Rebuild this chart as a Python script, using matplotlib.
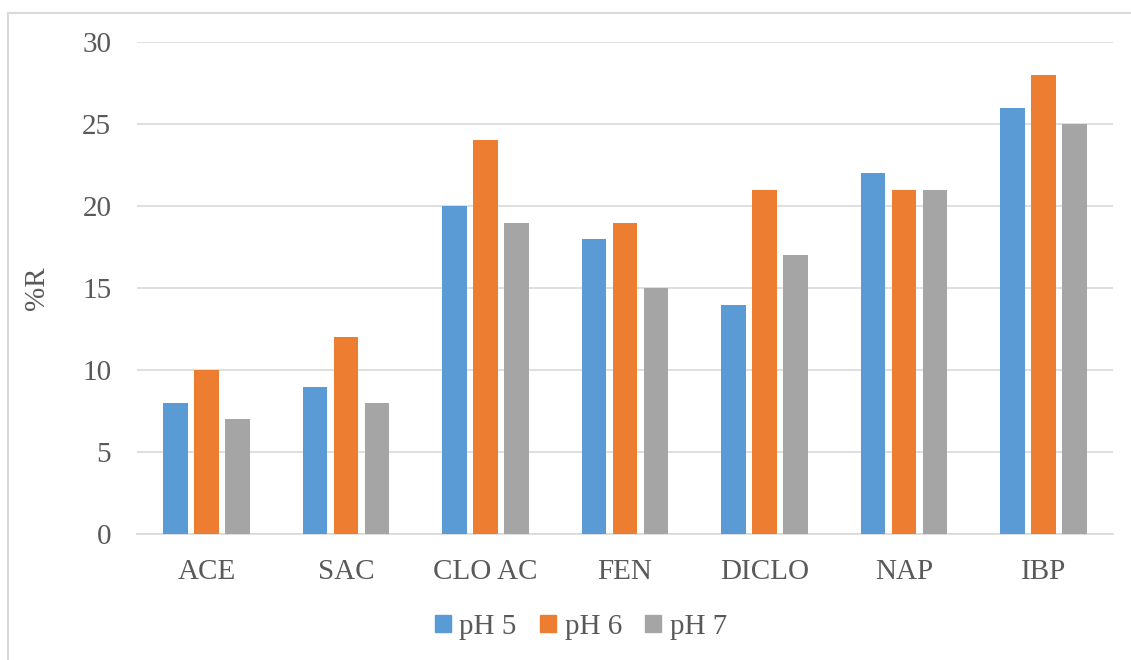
import matplotlib
matplotlib.use("Agg")
import matplotlib.pyplot as plt
import numpy as np
from matplotlib.lines import Line2D

categories = ["ACE", "SAC", "CLO AC", "FEN", "DICLO", "NAP", "IBP"]
series_names = ["pH 5", "pH 6", "pH 7"]
ph5 = [8, 9, 20, 18, 14, 22, 26]
ph6 = [10, 12, 24, 19, 21, 21, 28]
ph7 = [7, 8, 19, 15, 17, 21, 25]
colors = ["#5B9BD5", "#ED7D31", "#A5A5A5"]
yticks = [0, 5, 10, 15, 20, 25, 30]

plt.rcParams['font.family'] = ['Liberation Serif', 'DejaVu Serif']
txt = "#595959"
fs = 21

W, H = 1131, 660
fig = plt.figure(figsize=(W / 100, H / 100), dpi=100)
ax = fig.add_axes([137 / W, 1 - 534.3 / H, (1113 - 137) / W, (534.3 - 42) / H])

x = np.arange(len(categories))
step = 0.222
bw = 0.176
for i, (vals, name) in enumerate(zip([ph5, ph6, ph7], series_names)):
    ax.bar(x + (i - 1) * step, vals, width=bw, color=colors[i], label=name, zorder=3)

ax.set_xlim(-0.5, len(categories) - 0.5)
ax.set_ylim(0, 30)
ax.set_yticks(yticks)
ax.set_yticklabels([str(v) for v in yticks], fontsize=fs, color=txt)
ax.set_xticks(x)
ax.set_xticklabels(categories, fontsize=fs, color=txt)
ax.tick_params(axis='both', length=0)
ax.tick_params(axis='y', pad=18.5)
ax.tick_params(axis='x', pad=18)
ax.grid(axis='y', color="#D9D9D9", linewidth=1.2, zorder=0)
for s in ["top", "right", "left"]:
    ax.spines[s].set_visible(False)
ax.spines["bottom"].set_color("#D9D9D9")
ax.spines["bottom"].set_linewidth(1.2)
ax.set_ylabel("%R", fontsize=fs, color=txt, labelpad=23)

handles = [plt.Rectangle((0, 0), 1, 1, color=c) for c in colors]
fig.legend(handles, series_names, loc="center", bbox_to_anchor=(581 / W, 1 - 627 / H),
           ncol=3, frameon=False, fontsize=fs, handlelength=0.55, handleheight=0.55,
           handletextpad=0.3, columnspacing=0.8, labelcolor=txt)

# chart border
bx = 7.5 / W
by = 1 - 12.5 / H
fig.add_artist(Line2D([bx, bx], [0, by], transform=fig.transFigure, color="#D9D9D9", linewidth=1.5))
fig.add_artist(Line2D([bx, 1], [by, by], transform=fig.transFigure, color="#D9D9D9", linewidth=1.5))

fig.savefig("out.png", dpi=100)
